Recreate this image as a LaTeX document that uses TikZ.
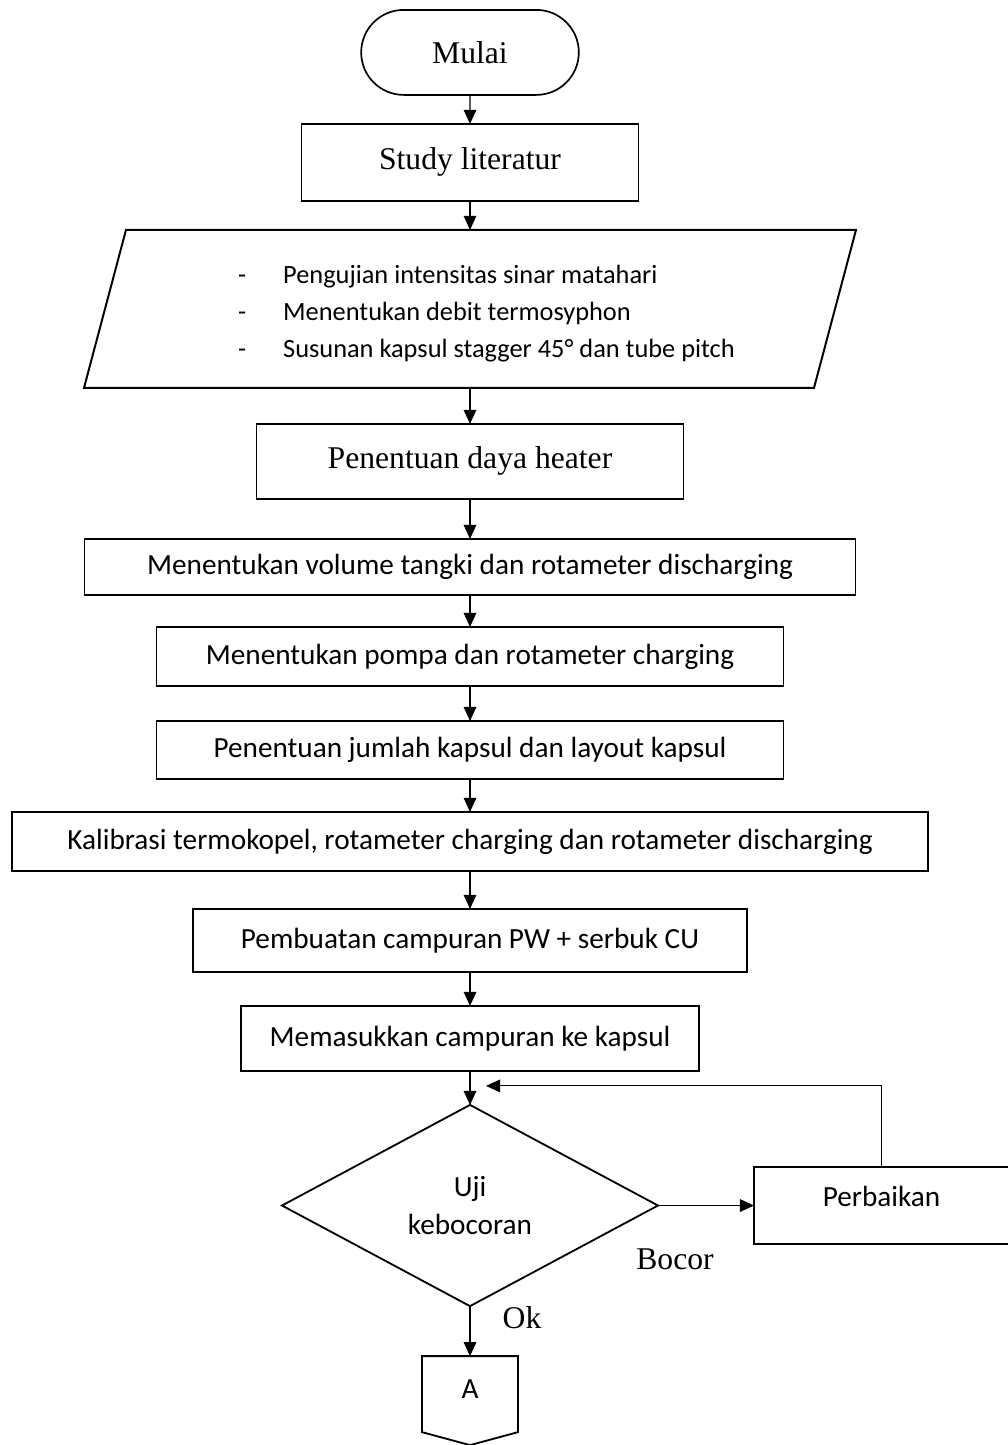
\documentclass[tikz,border=0pt]{standalone}
\usepackage{fontspec}
\setmainfont{Liberation Serif}
\newfontfamily\calibrifont{Carlito}
\usetikzlibrary{positioning,shapes.geometric,shapes.misc,arrows.meta}

\begin{document}
\begin{tikzpicture}[
    node distance=0.8cm,
    terminal/.style={rounded rectangle, draw, line width=1.2pt, outer sep=0pt, minimum width=5.675cm, minimum height=2.125cm, font=\fontsize{22.5}{27}\selectfont},
    process/.style={rectangle, draw, line width=1.4pt, outer sep=0pt, text centered, minimum height=1.45cm, font=\calibrifont\fontsize{20.8}{25}\selectfont},
    serifbox/.style={process, font=\fontsize{22.5}{27}\selectfont},
    inputbox/.style={rectangle, outer sep=0pt, minimum width=18.25cm, minimum height=3.95cm, align=left, font=\calibrifont\fontsize{18.75}{26.3}\selectfont},
    decision/.style={diamond, draw, line width=1.3pt, outer sep=0pt, minimum width=9.4cm, minimum height=5cm, align=center, font=\calibrifont\fontsize{20.8}{27}\selectfont},
    offpage/.style={minimum width=2.4cm, minimum height=2.225cm, outer sep=0pt, text depth=0.6cm, font=\calibrifont\fontsize{20.8}{25}\selectfont},
    note/.style={font=\fontsize{22.5}{27}\selectfont},
    arrow/.style={line width=0.75pt, ->, >={Stealth[inset=0pt, length=10pt, width=9pt]}}
]
    \useasboundingbox (0,0) rectangle (25.2,-36.125);

    % Alur utama
    \node [terminal] (mulai) at (11.75,-1.31) {Mulai};
    \node [serifbox, below=0.725cm of mulai, minimum width=8.425cm, minimum height=1.925cm] (studi) {Study literatur};
    \node [inputbox, below=0.725cm of studi, text height=2.55cm] (data) {\hspace*{0.825cm}\makebox[1.125cm][l]{-}Pengujian intensitas sinar matahari\\
        \hspace*{0.825cm}\makebox[1.125cm][l]{-}Menentukan debit termosyphon\\
        \hspace*{0.825cm}\makebox[1.125cm][l]{-}Susunan kapsul stagger 45° dan tube pitch};
    \draw [line width=1.4pt] ([xshift=0.525cm]data.north west) -- ([xshift=0.525cm]data.north east) -- ([xshift=-0.525cm]data.south east) -- ([xshift=-0.525cm]data.south west) -- cycle;
    \node [serifbox, below=0.9cm of data, minimum width=10.675cm, minimum height=1.875cm] (daya) {Penentuan daya heater};
    \node [process, below=1cm of daya, minimum width=19.275cm, minimum height=1.4cm] (volume) {Menentukan volume tangki dan rotameter discharging};
    \node [process, below=0.8cm of volume, minimum width=15.675cm, minimum height=1.475cm] (pompa) {Menentukan pompa dan rotameter charging};
    \node [process, below=0.875cm of pompa, minimum width=15.675cm] (kapsul) {Penentuan jumlah kapsul dan layout kapsul};
    \node [process, below=0.825cm of kapsul, minimum width=22.9cm, minimum height=1.475cm] (kalibrasi) {Kalibrasi termokopel, rotameter charging dan rotameter discharging};
    \node [process, below=0.95cm of kalibrasi, minimum width=13.85cm, minimum height=1.575cm] (campuran) {Pembuatan campuran PW + serbuk CU};
    \node [process, below=0.85cm of campuran, minimum width=11.45cm, minimum height=1.625cm] (isi) {Memasukkan campuran ke kapsul};

    % Uji dan perbaikan
    \node [decision, below=0.85cm of isi] (uji) {Uji\\kebocoran};
    \node [process, right=2.4cm of uji, minimum width=6.375cm, minimum height=1.925cm, text depth=0.45cm] (perbaikan) {Perbaikan};
    \node [offpage, below=1.25cm of uji] (konektor) {A};
    \draw [line width=1.3pt] (konektor.north west) -- (konektor.north east) -- ([yshift=0.325cm]konektor.south east) -- (konektor.south) -- ([yshift=0.325cm]konektor.south west) -- cycle;
    \coordinate [above right=0.475cm and 0.4cm of uji.north] (balik);

    % Panah
    \draw [arrow] (mulai) -- (studi);
    \draw [arrow] (studi) -- (data);
    \draw [arrow] (data) -- (daya);
    \draw [arrow] (daya) -- (volume);
    \draw [arrow] (volume) -- (pompa);
    \draw [arrow] (pompa) -- (kapsul);
    \draw [arrow] (kapsul) -- (kalibrasi);
    \draw [arrow] (kalibrasi) -- (campuran);
    \draw [arrow] (campuran) -- (isi);
    \draw [arrow] (isi) -- (uji);
    \draw [arrow] (uji) -- (perbaikan);
    \draw [arrow] (uji) -- (konektor);
    \draw [arrow] (perbaikan.north) |- (balik);

    % Label
    \node [note] (ok) at ([xshift=1.3cm, yshift=-0.28cm]uji.south) {Ok};
    \node [note] (bocor) at ([xshift=0.425cm, yshift=-1.35cm]uji.east) {Bocor};
\end{tikzpicture}
\end{document}
